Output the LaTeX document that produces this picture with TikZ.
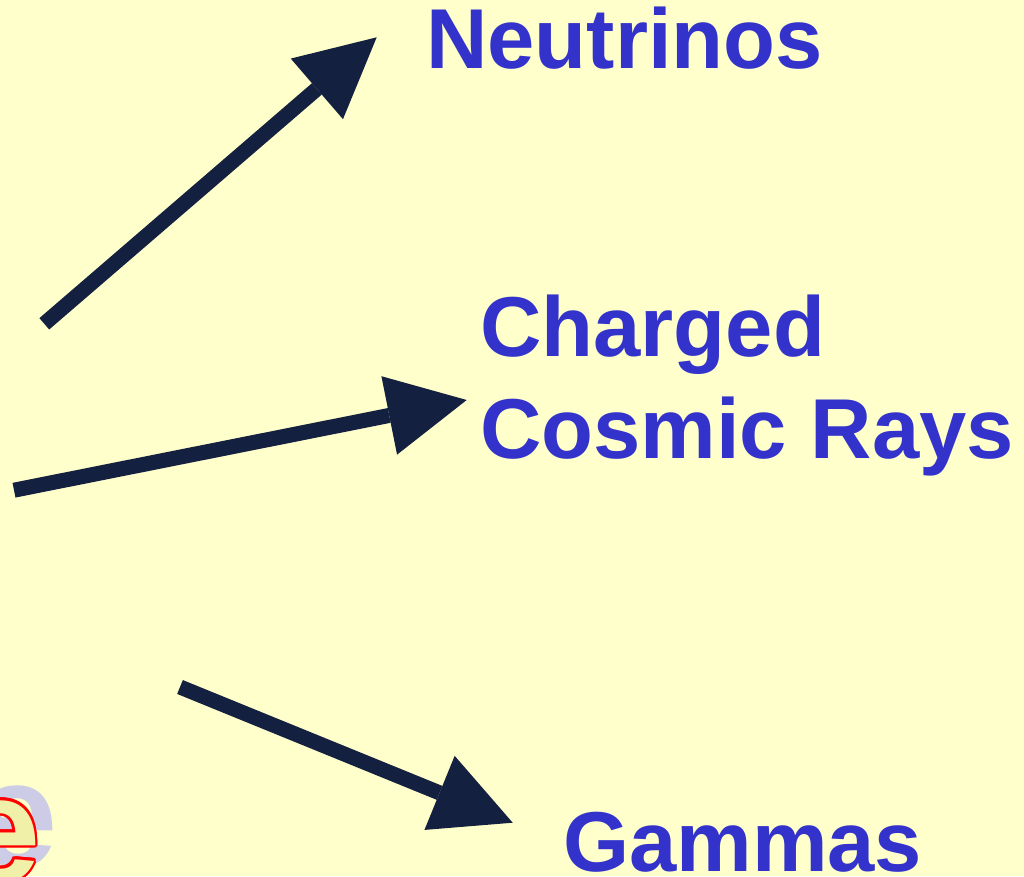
\documentclass[tikz,border=0pt]{standalone}
\usepackage{fontspec}
\setmainfont{Liberation Sans}
\usetikzlibrary{arrows.meta,calc}
\definecolor{bgyellow}{HTML}{FFFFCC}
\definecolor{labelblue}{HTML}{3333CC}
\definecolor{arrownavy}{HTML}{142040}
\definecolor{shadowlav}{HTML}{CCCCE6}
\definecolor{logored}{HTML}{FF0000}
\definecolor{logofill}{HTML}{F0F0A8}
\tikzset{
  bigarrow/.style={draw=arrownavy, line width=15pt, line cap=butt,
    -{Triangle[length=79pt, width=80pt, line width=0pt]}},
  label/.style={text=labelblue, inner sep=0pt, anchor=base west,
    font=\bfseries\fontsize{85}{102}\selectfont},
  logo/.style={inner sep=0pt, anchor=base west,
    font=\bfseries\fontsize{150}{160}\selectfont}
}
\begin{document}
\begin{tikzpicture}[x=1pt, y=-1pt]
\useasboundingbox (0,0) rectangle (1024,876);
\fill[bgyellow] (0,0) rectangle (1024,876);
\clip (0,0) rectangle (1024,876);
% partial logo letter at bottom-left
\node[logo, text=shadowlav] (eshadow) at (-26,866) {e};
\foreach \a in {0,30,...,330}{
  \node[logo, text=logored] at ($(-43,881)+(\a:2.4)$) {e};
}
\node[logo, text=logofill] (eletter) at (-43,881) {e};
% labels
\node[label] (neutrinos) at (426,68) {Neutrinos};
\node[label] (charged) at (480,356) {Charged};
\node[label] (cosmic) at (480,458) {Cosmic Rays};
\node[label] (gammas) at (563,871) {Gammas};
% arrow end points
\coordinate (t1) at (44.3,323.8);
\coordinate (h1) at (376.7,37.3);
\coordinate (t2) at (14,490.2);
\coordinate (h2) at (466.7,400);
\coordinate (t3) at (180,687);
\coordinate (h3) at (512.7,822.7);
\draw[bigarrow] (t1) -- (h1);
\draw[bigarrow] (t2) -- (h2);
\draw[bigarrow] (t3) -- (h3);
\end{tikzpicture}
\end{document}
